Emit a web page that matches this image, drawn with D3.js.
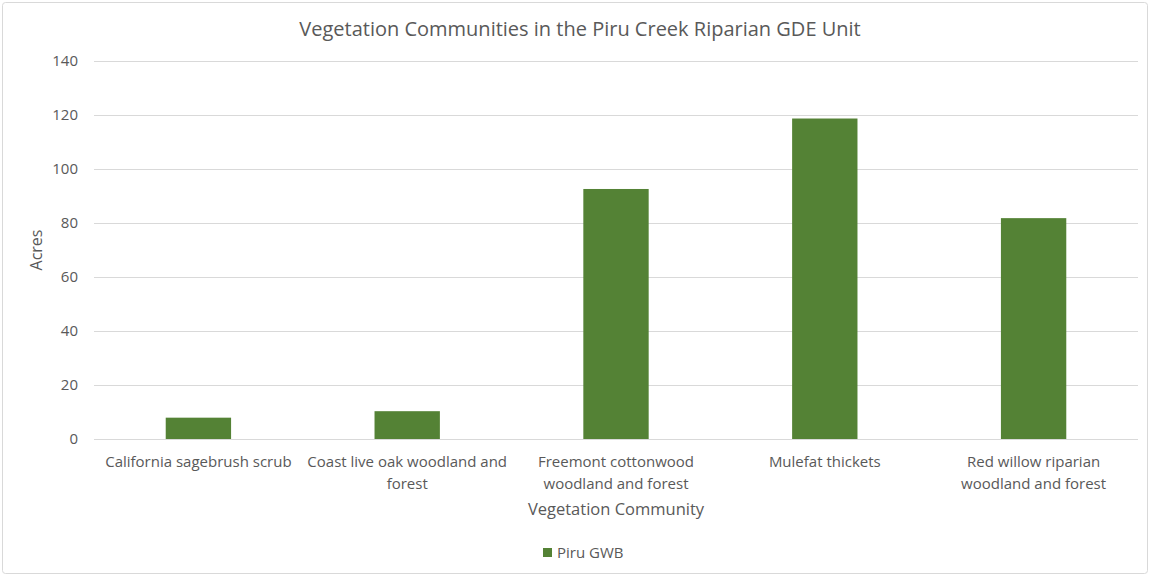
<!DOCTYPE html>
<html>
<head>
<meta charset="utf-8">
<script src="https://cdn.jsdelivr.net/npm/d3@7"></script>
<style>
  body { margin: 0; background: #fff; }
  text { font-family: "Open Sans", "Liberation Sans", sans-serif; fill: #595959; }
</style>
</head>
<body>
<svg width="1151" height="576"></svg>
<script>
    const categories = [
      "California sagebrush scrub",
      "Coast live oak woodland and forest",
      "Freemont cottonwood woodland and forest",
      "Mulefat thickets",
      "Red willow riparian woodland and forest"
    ];
    // how the category labels wrap under the axis
    const tickLines = [
      ["California sagebrush scrub"],
      ["Coast live oak woodland and", "forest"],
      ["Freemont cottonwood", "woodland and forest"],
      ["Mulefat thickets"],
      ["Red willow riparian", "woodland and forest"]
    ];
    const acres = [7.9, 10.3, 92.6, 118.7, 81.8];
    const yTicks = [0, 20, 40, 60, 80, 100, 120, 140];
    const seriesName = "Piru GWB";

    const svg = d3.select("svg"),
          margin = {top: 61, right: 13, bottom: 137, left: 94},
          width = +svg.attr("width") - margin.left - margin.right,
          height = +svg.attr("height") - margin.top - margin.bottom;

    // chart border
    svg.append("rect")
      .attr("x", 2.5).attr("y", 2.5)
      .attr("width", 1145).attr("height", 571)
      .attr("rx", 3)
      .attr("fill", "none")
      .attr("stroke", "#d9d9d9");

    const g = svg.append("g").attr("transform", `translate(${margin.left},${margin.top})`);

    const x = d3.scaleBand()
      .domain(categories)
      .range([0, width])
      .paddingInner(0.687)
      .paddingOuter(0.3435);

    const y = d3.scaleLinear()
      .domain([0, 140])
      .range([height, 0]);

    // gridlines
    g.append("g")
      .selectAll("line")
      .data(yTicks)
      .join("line")
      .attr("x1", 0).attr("x2", width)
      .attr("y1", d => Math.round(y(d)) + 0.5)
      .attr("y2", d => Math.round(y(d)) + 0.5)
      .attr("stroke", "#d9d9d9")
      .attr("stroke-width", 1);

    // y tick labels
    const yAxis = g.append("g")
      .call(d3.axisLeft(y).tickValues(yTicks).tickSize(0).tickPadding(16));
    yAxis.select(".domain").remove();
    yAxis.selectAll("text")
      .style("font-size", "15px")
      .attr("fill", "#595959");

    // bars
    g.selectAll(".bar")
      .data(acres)
      .join("rect")
      .attr("class", "bar")
      .attr("x", (d, i) => x(categories[i]))
      .attr("width", x.bandwidth())
      .attr("y", d => y(d))
      .attr("height", d => y(0) - y(d))
      .attr("fill", "#548235");

    // x category labels
    const xLabels = g.append("g")
      .selectAll("text")
      .data(categories)
      .join("text")
      .attr("text-anchor", "middle")
      .attr("x", d => x(d) + x.bandwidth() / 2)
      .attr("y", height + 28)
      .style("font-size", "15px");
    xLabels.each(function(d, i) {
      d3.select(this).selectAll("tspan")
        .data(tickLines[i])
        .join("tspan")
        .attr("x", x(d) + x.bandwidth() / 2)
        .attr("dy", (l, j) => j === 0 ? 0 : 22)
        .text(l => l);
    });

    // Chart title
    svg.append("text")
      .attr("x", 580)
      .attr("y", 36)
      .attr("text-anchor", "middle")
      .style("font-size", "20px")
      .text("Vegetation Communities in the Piru Creek Riparian GDE Unit");

    // Y-axis label
    svg.append("text")
      .attr("transform", "rotate(-90)")
      .attr("x", -(margin.top + height / 2))
      .attr("y", 42)
      .attr("text-anchor", "middle")
      .style("font-size", "16px")
      .text("Acres");

    // X-axis label
    svg.append("text")
      .attr("x", margin.left + width / 2)
      .attr("y", 515)
      .attr("text-anchor", "middle")
      .style("font-size", "16.5px")
      .text("Vegetation Community");

    // legend
    const legend = svg.append("g").attr("transform", "translate(543,548)");
    legend.append("rect")
      .attr("width", 9).attr("height", 9)
      .attr("fill", "#548235");
    legend.append("text")
      .attr("x", 14).attr("y", 10)
      .style("font-size", "15px")
      .text(seriesName);
</script>
</body>
</html>
